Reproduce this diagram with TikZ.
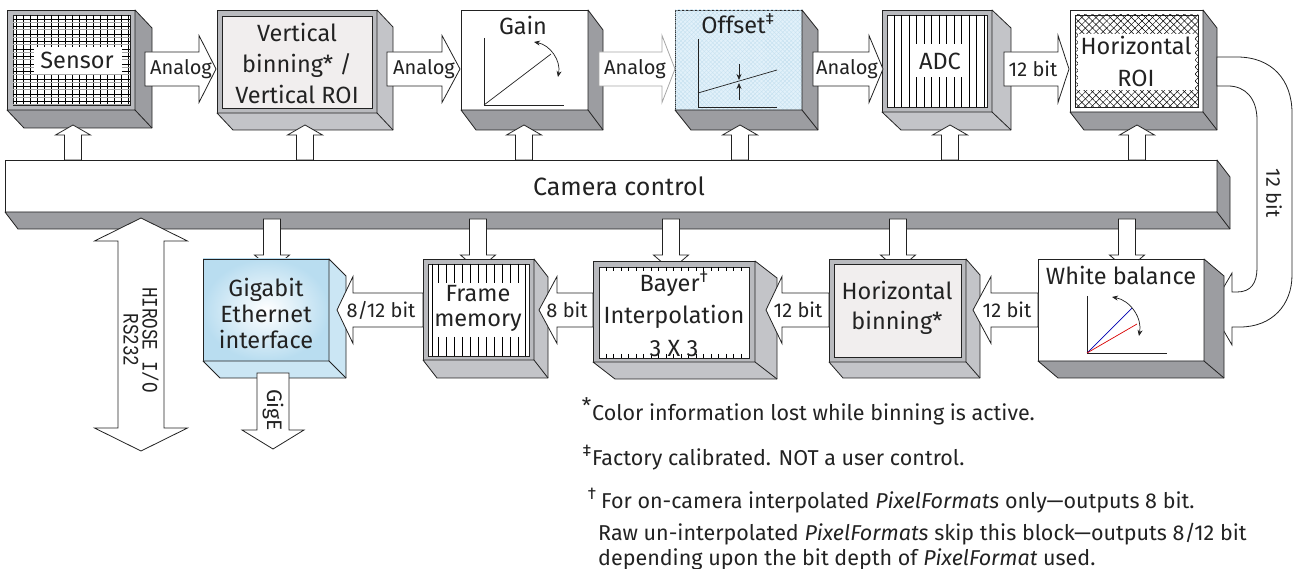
\documentclass[tikz,border=0pt]{standalone}
\usepackage{fontspec}
\setmainfont{Fira Sans}
\newfontfamily\hmono{Liberation Mono}[FakeStretch=0.8]
\usetikzlibrary{calc,patterns.meta,arrows.meta}
\definecolor{bez}{HTML}{B9BABE}
\definecolor{sideD}{HTML}{9C9DA1}
\definecolor{sideL}{HTML}{C3C4C8}
\definecolor{pinkish}{HTML}{F1EEEE}
\definecolor{offblue}{HTML}{E2F1FA}
\definecolor{offline}{HTML}{C6E1F0}
\definecolor{gigblue}{HTML}{B9DDF0}
\definecolor{ink}{HTML}{222222}
\tikzset{
 fr/.style={draw=ink, line width=0.8pt, anchor=north west, inner sep=0pt, outer sep=0pt},
 face/.style={draw=ink, line width=0.8pt, line join=round},
 arr/.style={draw=ink, line width=0.8pt, fill=white, line join=miter},
 thinl/.style={draw=ink, line width=0.7pt},
 gridl/.style={draw=black, line width=0.5pt},
 blbl/.style={font=\fontsize{23.5}{28}\selectfont, text=ink, align=center, inner sep=0pt},
 albl/.style={font=\fontsize{20}{22}\selectfont, text=ink, inner sep=0pt},
 fn/.style={font=\fontsize{21.5}{24}\selectfont, text=ink, anchor=base west, inner sep=0pt},
 curv/.style={line width=0.7pt, draw=ink, {Stealth[length=6pt,width=5pt]}-{Stealth[length=6pt,width=5pt]}},
 tipdown/.style={line width=0.7pt, draw=ink, -{Stealth[length=6pt,width=5pt]}},
}
\newcommand{\blk}[6]{\node[fr,minimum width={#4-#2},minimum height={#5-#3},#6] (#1) at (#2,#3) {};}
\newcommand{\faces}[4]{%
 \draw[face,fill=#4] (#1.north east) -- ++(#2,#3) -- ($(#1.south east)+(#2,#3)$) -- ($(#1.south west)+(#2,#3)$) -- (#1.south west) -- (#1.south east) -- cycle;
 \draw[face] (#1.south east) -- ++(#2,#3);}
\newcommand{\harr}[5]{\draw[arr,#5] (#1,{#4-17}) -- (#2,{#4-17}) -- (#2,{#4-33.5}) -- (#3,#4) -- (#2,{#4+33.5}) -- (#2,{#4+17}) -- (#1,{#4+17}) -- cycle;}
\newcommand{\varr}[7]{\draw[arr,#7] ({#1-#5},#2) -- ({#1-#5},#3) -- ({#1-#6},#3) -- (#1,#4) -- ({#1+#6},#3) -- ({#1+#5},#3) -- ({#1+#5},#2) -- cycle;}
\begin{document}
\begin{tikzpicture}[x=1pt,y=-1pt]
\useasboundingbox (0,0) rectangle (1299,569);

% ---------- camera control bar
\blk{bar}{5}{160}{1217}{212}{fill=white}
\faces{bar}{13}{17}{sideD}
\node[blbl, font=\fontsize{25}{28}\selectfont] (barTxt) at (619,186) {Camera control};

% ---------- top row
% Sensor
\blk{sensor}{7}{10}{135}{110}{fill=bez}
\faces{sensor}{17}{18}{sideD}
\blk{sensorIn}{13}{15}{130}{105}{fill=white}
\begin{scope}
\clip (13,15) rectangle (130,105);
\foreach \x in {16,23,...,130} \draw[gridl, line width=0.45pt] (\x,15) -- (\x,105);
\foreach \y in {19,26.5,...,105} \draw[gridl, line width=0.45pt] (13,\y) -- (130,\y);
\foreach \y in {22,29.5,...,105} \draw[gridl, line width=0.4pt, black!35] (13,\y) -- (130,\y);
\end{scope}
\node[fill=white, inner sep=0pt, minimum width=88, minimum height=27] (sensorBox) at (77.5,60.5) {};
\node[blbl] (sensorTxt) at (77,60) {Sensor};

% Vertical binning
\blk{vb}{217}{10}{377}{113}{fill=bez}
\faces{vb}{16}{17}{sideL}
\blk{vbIn}{222}{16}{372}{108}{fill=pinkish}
\node[blbl, font=\fontsize{23.5}{31}\selectfont] (vbTxt) at (297,63) {Vertical\\binning* /\\Vertical ROI};

% Gain
\blk{gain}{461}{10}{588}{110}{fill=white}
\faces{gain}{15}{20}{sideD}
\node[blbl] (gainTxt) at (523,25) {Gain};
\draw[thinl] (484,38) -- (484,105) -- (564,105);
\draw[thinl] (484,105) -- (551,54);
\draw[curv] (534,42) to[bend left=45] (558,77);

% Offset
\blk{offset}{675}{10}{802}{110}{fill=offblue, postaction={pattern={Lines[angle=45,distance=3pt,line width=0.4pt]}, pattern color=offline}, postaction={pattern={Lines[angle=-45,distance=3pt,line width=0.4pt]}, pattern color=offline}}
\faces{offset}{16}{20}{sideD}
\node[blbl] (offTxt) at (738,24) {Offset\textsuperscript{‡}};
\draw[thinl] (698,39) -- (698,107) -- (777,107);
\draw[thinl] (698,93) -- (777,70);
\draw[tipdown] (739,64) -- (739,80);
\draw[tipdown] (739,100) -- (739,83);

% ADC
\blk{adc}{882}{10}{992}{112}{fill=bez}
\faces{adc}{19}{18}{sideL}
\blk{adcIn}{887}{15}{987}{107}{fill=white}
\foreach \x in {894,901.5,...,986} \draw[gridl] (\x,15) -- (\x,107);
\node[fill=white, inner sep=0pt, minimum width=56, minimum height=33] (adcBox) at (940,61) {};
\node[blbl] (adcTxt) at (940,61) {ADC};

% Horizontal ROI
\blk{hroi}{1070}{10}{1203}{112}{fill=white}
\faces{hroi}{14}{18}{sideD}
\blk{hroiIn}{1075}{15}{1198}{107}{pattern={Lines[angle=45,distance=5pt,line width=0.5pt]}, postaction={pattern={Lines[angle=-45,distance=5pt,line width=0.5pt]}}}
\node[fill=white, inner sep=0pt, minimum width=117, minimum height=56] (hroiBox) at (1136.5,62) {};
\node[blbl, font=\fontsize{23.5}{32}\selectfont] (hroiTxt) at (1136,61) {Horizontal\\ROI};

% up arrows from camera control
\foreach \xa in {73,305,524,740,950,1137}
  \varr{\xa}{160}{135}{125}{8.5}{17.5}{};

% top horizontal arrows
\harr{145}{199}{216}{69}{}
\node[albl] (a1) at (181,69) {Analog};
\harr{387}{442}{460}{69}{}
\node[albl] (a2) at (424,69) {Analog};
\harr{599}{662}{675}{69}{draw=black!35}
\node[albl] (a3) at (635,69) {Analog};
\harr{813}{869}{883}{69}{}
\node[albl] (a4) at (847,69) {Analog};
\harr{1004}{1058}{1069}{69}{}
\node[albl] (a5) at (1033,69) {12 bit};

% U-shaped 12 bit arrow
\draw[arr] (1217,57) -- (1237,57) .. controls (1272,57) and (1292,80) .. (1292,113)
  -- (1292,275) .. controls (1292,305) and (1272,327) .. (1240,327) -- (1232,327)
  -- (1232,345) -- (1211,309) -- (1232,273) -- (1232,292) -- (1237,292)
  .. controls (1251,292) and (1257,283) .. (1257,268) -- (1257,120)
  .. controls (1257,98) and (1245,86) .. (1228,86) -- (1217,86) -- cycle;
\node[albl, rotate=-90] (u12) at (1274,193) {12 bit};

% down arrows from camera control (tips hidden by blocks)
\foreach \xa in {272,478,671,898,1127}
  \varr{\xa}{219}{255}{270}{8.5}{17.5}{};

% ---------- bottom row
% Gigabit
\blk{gig}{203}{259}{329}{361}{inner color=white, outer color=gigblue}
\faces{gig}{17}{17}{gigblue!75}
\node[blbl, font=\fontsize{23.5}{26}\selectfont] (gigTxt) at (266,313) {Gigabit\\Ethernet\\interface};

% Frame memory
\blk{fm}{423}{259}{534}{360}{fill=bez}
\faces{fm}{14}{18}{sideL}
\blk{fmIn}{428}{264}{529}{356}{fill=white}
\draw[gridl] (432,264) -- (432,356);
\draw[gridl] (525,264) -- (525,356);
\foreach \x in {438,446,...,520} {\draw[gridl] (\x,264) -- (\x,283); \draw[gridl] (\x,337) -- (\x,356);}
\node[blbl, font=\fontsize{23.5}{25}\selectfont] (fmTxt) at (478,308) {Frame\\memory};

% Bayer
\blk{bayer}{593}{261}{755}{362}{fill=bez}
\faces{bayer}{22}{17}{sideL}
\blk{bayerIn}{599}{267}{749}{358}{fill=white}
\foreach \x in {606,613.5,...,745} {\draw[gridl] (\x,267) -- (\x,271); \draw[gridl] (\x,354) -- (\x,358);}
\node[blbl, font=\fontsize{23.5}{32.5}\selectfont] (bayerTxt) at (674,314) {Bayer\textsuperscript{†}\\Interpolation\\3 X 3};

% Horizontal binning
\blk{hb}{829}{259}{966}{362}{fill=bez}
\faces{hb}{14}{16}{sideL}
\blk{hbIn}{834}{264}{961}{357}{fill=pinkish}
\node[blbl, font=\fontsize{23.5}{30}\selectfont] (hbTxt) at (897,308) {Horizontal\\binning*};

% White balance
\blk{wb}{1038}{259}{1204}{361}{fill=white}
\faces{wb}{20}{17}{sideD}
\node[blbl] (wbTxt) at (1121,275) {White balance};
\draw[thinl] (1087,296) -- (1087,353) -- (1167,353);
\draw[line width=0.7pt, blue!70!black] (1087,353) -- (1132,308);
\draw[line width=0.7pt, red!85!black] (1087,353) -- (1137,324);
\draw[curv] (1112,297) to[bend left=45] (1139,336);

% bottom horizontal arrows
\harr{1038}{991}{973}{310}{}
\node[albl] (b1) at (1007,310) {12 bit};
\harr{829}{782}{766}{310}{}
\node[albl] (b2) at (798,310) {12 bit};
\harr{593}{557}{539}{310}{}
\node[albl] (b3) at (567,310) {8 bit};
\harr{423}{353}{337}{310}{}
\node[albl] (b4) at (381,310) {8/12 bit};

% GigE
\varr{273}{373}{430}{449}{16}{31}{}
\node[albl, rotate=-90, font=\fontsize{21}{22}\selectfont] (gigeTxt) at (273,410) {GigE};

% HIROSE double arrow
\draw[arr] (141,218) -- (187.5,241) -- (164,241) -- (164,428) -- (187.5,428) -- (141,451)
  -- (94.5,428) -- (118,428) -- (118,241) -- (94.5,241) -- cycle;
\node[rotate=-90, font=\hmono\fontsize{22}{19}\selectfont, align=center, text=ink, inner sep=0pt] (hirTxt) at (141,340) {HIROSE I/O\\RS232};

% footnotes
\node[fn] (fn1) at (592,420) {\llap{\raisebox{6pt}{*}\hspace{1pt}}Color information lost while binning is active.};
\node[fn] (fn2) at (592,465) {\llap{\raisebox{9pt}{\fontsize{17}{17}\selectfont ‡}\hspace{1pt}}Factory calibrated. NOT a user control.};
\node[fn] (fn3) at (601,508) {\llap{\raisebox{9pt}{\fontsize{17}{17}\selectfont †}\hspace{5pt}}For on-camera interpolated \textit{PixelFormats} only—outputs 8 bit.};
\node[fn] (fn4) at (598,540) {Raw un-interpolated \textit{PixelFormats} skip this block—outputs 8/12 bit};
\node[fn] (fn5) at (598,565) {depending upon the bit depth of \textit{PixelFormat} used.};
\end{tikzpicture}
\end{document}
